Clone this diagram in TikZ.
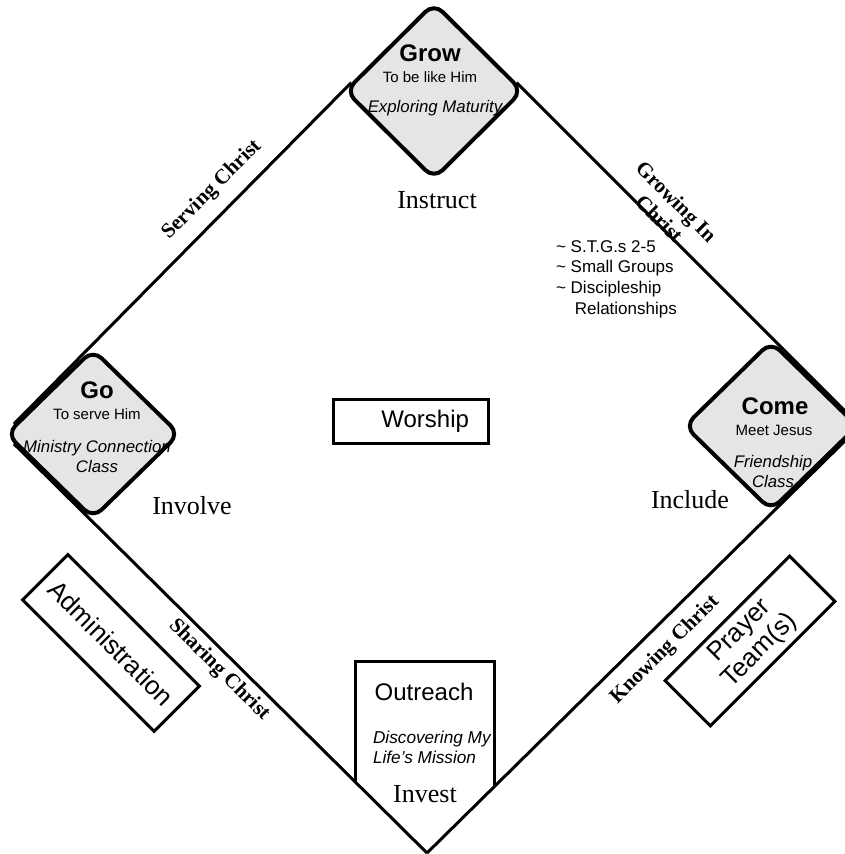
\documentclass[tikz,border=0pt]{standalone}
\usepackage{fontspec}
\setmainfont{Liberation Serif}
\setsansfont{Liberation Sans}
\usetikzlibrary{shapes.geometric, backgrounds}

\tikzset{
  cornerbox/.style={diamond, draw, fill=gray!20, line width=2pt, rounded corners=6pt, inner sep=0pt},
  sidebox/.style={draw, line width=1.5pt, inner sep=1pt, align=center, font=\sffamily\fontsize{13}{14}\selectfont},
  field/.style={line width=1.5pt},
  cornertitle/.style={font=\sffamily\bfseries\fontsize{12}{14}\selectfont},
  sub/.style={font=\sffamily\fontsize{7.5}{9}\selectfont},
  note/.style={font=\sffamily\itshape\fontsize{8.4}{10}\selectfont, align=center},
  stage/.style={font=\fontsize{13}{15}\selectfont},
  lane/.style={font=\bfseries\fontsize{10.5}{12}\selectfont, align=center},
}

\begin{document}
\begin{tikzpicture}[x=0.5pt, y=-0.5pt]
\useasboundingbox (0,0) rectangle (844,854);

% the three corners
\node[cornerbox, minimum width=89pt, minimum height=88.5pt] (grow) at (434,91) {};
\node[cornerbox, minimum width=87pt, minimum height=85pt] (go) at (93,434) {};
\node[cornerbox, minimum width=87pt, minimum height=85pt] (come) at (771,426) {};
\coordinate (home) at (427,853);

\begin{pgfonlayer}{background}
  \draw[field, shorten <=-6pt, shorten >=7pt] (grow.west) -- (go.west);
  \draw[field, shorten <=-6pt] (grow.east) -- (come.east);
  \draw[field, shorten <=4pt] (come.east) -- (home);
  \draw[field, shorten >=7pt] (home) -- (go.west);
\end{pgfonlayer}

% texts in the corners
\node[cornertitle] (growtitle) at (430,53) {Grow};
\node[sub] (growsub) at (430,77) {To be like Him};
\node[note] (grownote) at (435,108) {Exploring Maturity};
\node[stage] (instruct) at (437,200) {Instruct};

\node[cornertitle] (gotitle) at (97,390) {Go};
\node[sub] (gosub) at (97,414) {To serve Him};
\node[note] (gonote) at (97,456) {Ministry Connection\\Class};
\node[stage] (involve) at (192,506) {Involve};

\node[cornertitle] (cometitle) at (775,406) {Come};
\node[sub] (comesub) at (774,430) {Meet Jesus};
\node[note] (comenote) at (773,471) {Friendship\\Class};
\node[stage] (include) at (690,500) {Include};

% middle
\node[sidebox, font=\sffamily\fontsize{12}{14}\selectfont, minimum width=77.5pt, minimum height=21.5pt,
      text width=58.5pt, inner xsep=9.5pt, align=right] (worship) at (410.5,421.5) {Worship};

\node[font=\sffamily\fontsize{8.5}{10.3}\selectfont, align=left, anchor=west] (steps) at (549,279)
  {\textasciitilde{} S.T.G.s 2-5\\ \textasciitilde{} Small Groups\\ \textasciitilde{} Discipleship\\ \hspace{1.1em}Relationships};

% home plate
\draw[field] (355,781) |- (494,661) -- (494,786);
\node[font=\sffamily\fontsize{12}{14}\selectfont] (outreach) at (424,692) {Outreach};
\node[note, font=\sffamily\itshape\fontsize{8.6}{10}\selectfont, align=left, anchor=west] (mission) at (366,747)
  {Discovering My\\Life's Mission};
\node[stage] (invest) at (425,794) {Invest};

% outside boxes
\node[sidebox, rotate=-45, minimum width=93pt, minimum height=32pt] (admin) at (111,643) {Administration};
\node[sidebox, rotate=45, minimum width=88pt, minimum height=32pt] (prayer) at (750,641) {Prayer\\Team(s)};

% base lines
\node[lane, rotate=45] (serving) at (212,190) {Serving Christ};
\node[lane, rotate=-45] (growing) at (668,210) {Growing In\\Christ};
\node[lane, rotate=-45] (sharing) at (219,670) {Sharing Christ};
\node[lane, rotate=45] (knowing) at (665,650) {Knowing Christ};

\end{tikzpicture}
\end{document}
